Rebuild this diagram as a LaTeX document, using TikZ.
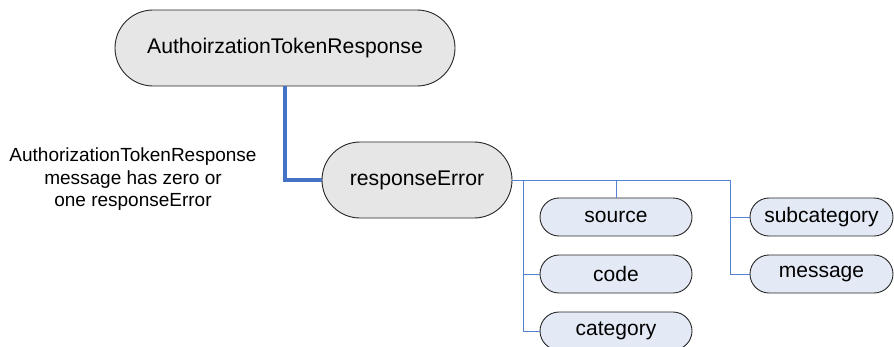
\documentclass[tikz,border=0pt]{standalone}
\usepackage{fontspec}
\setmainfont{Liberation Sans}
\definecolor{thickblue}{RGB}{68,114,196}
\definecolor{thinblue}{RGB}{84,130,210}
\definecolor{grayfill}{RGB}{230,230,230}
\definecolor{bluefill}{RGB}{228,234,245}
\begin{document}
\begin{tikzpicture}[x=1pt,y=-1pt,
  bignode/.style={draw=black!85, line width=0.9pt, fill=grayfill, rectangle, rounded corners=38pt, minimum height=76pt, inner sep=0pt, font=\fontsize{21.2}{25}\selectfont},
  smallnode/.style={draw=black!85, line width=0.9pt, fill=bluefill, rectangle, rounded corners=19pt, minimum height=38pt, inner sep=0pt, font=\fontsize{21}{25}\selectfont},
  thickline/.style={draw=thickblue, line width=4pt},
  thinline/.style={draw=thinblue, line width=1pt}]
\useasboundingbox (0,0) rectangle (894,346);
\node[bignode, minimum width=340pt] (top) at (285,48) {AuthoirzationTokenResponse};
\node[bignode, minimum width=190pt] (re) at (417,180) {responseError};
\node[smallnode, minimum width=152pt] (source) at (616,217) {source};
\node[smallnode, minimum width=152pt] (code) at (616,274) {code};
\node[smallnode, minimum width=152pt] (category) at (616,331) {category};
\node[smallnode, minimum width=143pt] (subcat) at (821.5,217) {subcategory};
\node[smallnode, minimum width=143pt] (message) at (821.5,274) {message};
\node[align=center, font=\fontsize{19}{22.5}\selectfont] (note) at (133,179.5) {AuthorizationTokenResponse\\message has zero or\\one responseError};
\coordinate (b1) at (523,180);
\coordinate (b2) at (616,180);
\coordinate (b3) at (730,180);
\draw[thickline] (top.south) |- (re.west);
\draw[thinline] (re.east) -- (b3);
\draw[thinline] (b1) |- (code.west);
\draw[thinline] (b1) |- (category.west);
\draw[thinline] (b2) -- (source.north);
\draw[thinline] (b3) |- (subcat.west);
\draw[thinline] (b3) |- (message.west);
\end{tikzpicture}
\end{document}
